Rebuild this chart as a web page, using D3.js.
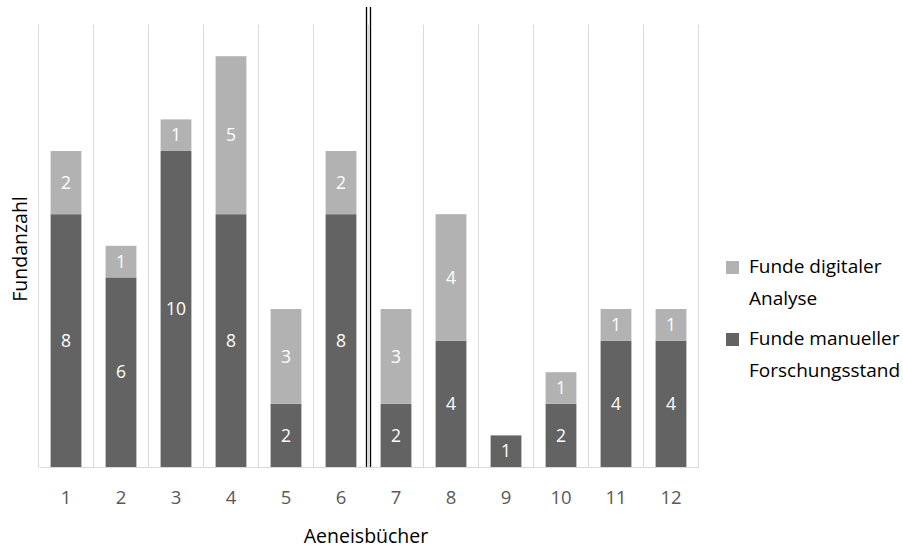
<!DOCTYPE html>
<html><head><meta charset="utf-8">
<script src="https://cdn.jsdelivr.net/npm/d3@7/dist/d3.min.js"></script>
<style>body{margin:0;background:#fff}svg{display:block}</style>
</head><body>
<svg id="c" width="903" height="549"></svg>
<script>
const categories = ["1","2","3","4","5","6","7","8","9","10","11","12"];
const manual = [8,6,10,8,2,8,2,4,1,2,4,4];
const digital = [2,1,1,5,3,2,3,4,0,1,1,1];
const seriesNames = ["Funde digitaler Analyse","Funde manueller Forschungsstand"];
const colors = {manual:"#636363", digital:"#b2b2b2"};
const font = "'Open Sans', sans-serif";

const svg = d3.select("#c");
const pLeft = 38.5, pRight = 698.5, pTop = 24.6, pBottom = 467;
const x = d3.scaleBand().domain(categories).range([pLeft,pRight]).paddingInner(0.44).paddingOuter(0.22);
const xb = d3.scaleBand().domain(categories).range([pLeft,pRight]);
const y = d3.scaleLinear().domain([0,14]).range([pBottom,pTop]);

// vertical gridlines
const gx = categories.map(c=>xb(c)).concat([pRight]);
svg.append("g").selectAll("line").data(gx).join("line")
  .attr("x1",d=>d).attr("x2",d=>d).attr("y1",pTop).attr("y2",pBottom)
  .attr("stroke","#d9d9d9").attr("stroke-width",1);

// bars
const rows = categories.map((c,i)=>({c, manual:manual[i], digital:digital[i]}));
const stack = d3.stack().keys(["manual","digital"])(rows);
const g = svg.append("g");
stack.forEach(s=>{
  g.selectAll(null).data(s).join("rect")
    .attr("x",d=>x(d.data.c)).attr("width",x.bandwidth())
    .attr("y",d=>y(d[1])).attr("height",d=>y(d[0])-y(d[1]))
    .attr("fill",colors[s.key]);
  g.selectAll(null).data(s.filter(d=>d[1]>d[0])).join("text")
    .attr("x",d=>x(d.data.c)+x.bandwidth()/2).attr("y",d=>(y(d[0])+y(d[1]))/2)
    .attr("dy","0.35em").attr("text-anchor","middle")
    .attr("fill","#fff").style("font-family",font).style("font-size","17.5px")
    .text(d=>d[1]-d[0]);
});

// x axis
const xa = svg.append("g").attr("transform",`translate(0,${pBottom})`)
  .call(d3.axisBottom(xb).tickSize(0).tickPadding(24));
xa.select(".domain").attr("stroke","#d9d9d9");
xa.selectAll("text").attr("fill","#595959").style("font-family",font).style("font-size","18.5px");

// double separator line
const sep = xb("7");
[sep-2, sep+2].forEach(v=>{
  svg.append("line").attr("x1",v).attr("x2",v).attr("y1",7).attr("y2",pBottom)
    .attr("stroke","#000").attr("stroke-width",1.3);
});

// axis titles
svg.append("text").attr("x",366).attr("y",536).attr("dy","0.35em").attr("text-anchor","middle")
  .style("font-family",font).style("font-size","19.5px").attr("fill","#000").text("Aeneisbücher");
svg.append("text").attr("transform","translate(20,249) rotate(-90)").attr("dy","0.35em").attr("text-anchor","middle")
  .style("font-family",font).style("font-size","19.5px").attr("fill","#000").text("Fundanzahl");

// legend
const leg = [
  {lines:["Funde digitaler","Analyse"], color:colors.digital, y:261},
  {lines:["Funde manueller","Forschungsstand"], color:colors.manual, y:333}
];
leg.forEach(l=>{
  svg.append("rect").attr("x",726).attr("y",l.y).attr("width",13).attr("height",13).attr("fill",l.color);
  l.lines.forEach((t,i)=>{
    svg.append("text").attr("x",749).attr("y",l.y+5+i*32.5).attr("dy","0.35em")
      .style("font-family",font).style("font-size","19px").attr("fill","#000").text(t);
  });
});
</script>
</body></html>
